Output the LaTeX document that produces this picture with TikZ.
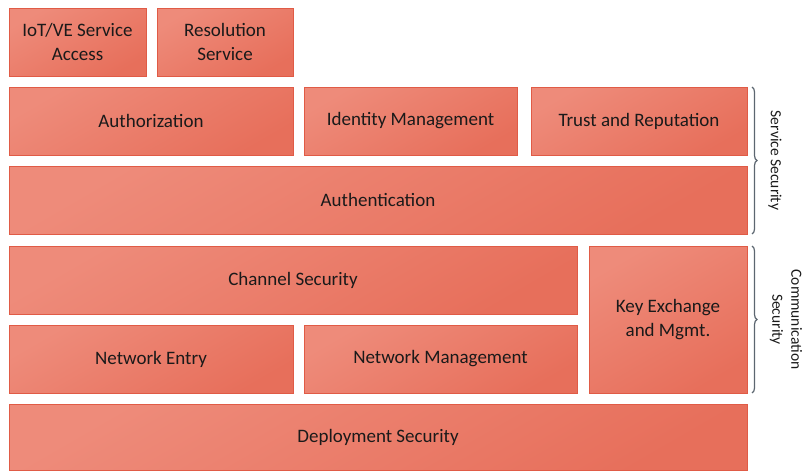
\documentclass[tikz,border=0pt]{standalone}
\usepackage{fontspec}
\setmainfont{Carlito}
\usetikzlibrary{decorations.pathreplacing}

\definecolor{boxlight}{HTML}{EE8B7A}
\definecolor{boxdark}{HTML}{E76F5B}
\definecolor{boxline}{HTML}{E05B46}
\definecolor{bracegray}{HTML}{5C6670}
\definecolor{txt}{HTML}{1A1A1A}

\begin{document}
\begin{tikzpicture}[x=1pt,y=-1pt,
    blk/.style={draw=boxline, line width=1pt, top color=boxlight,
      bottom color=boxdark, shading angle=30, inner sep=0pt,
      align=center, text=txt, font=\fontsize{19}{24}\selectfont},
    grp/.style={draw=bracegray, line width=1.2pt,
      decorate, decoration={brace, amplitude=5pt}},
    grplabel/.style={rotate=-90, align=center, text=txt,
      font=\fontsize{15.5}{19}\selectfont}]
  \useasboundingbox (0,0) rectangle (803,471);

  % top row
  \node[blk, minimum width=137pt, minimum height=68pt] (iot) at (77.5,42) {IoT/VE Service\\Access};
  \node[blk, minimum width=136pt, minimum height=68pt] (res) at (225,42) {Resolution\\Service};

  % service security
  \node[blk, minimum width=284pt, minimum height=68pt] (authz) at (151,121) {Authorization};
  \node[blk, minimum width=213pt, minimum height=68pt] (idm) at (410.5,121) {Identity Management};
  \node[blk, minimum width=216pt, minimum height=68pt] (trust) at (639,121) {Trust and Reputation};
  \node[blk, minimum width=738pt, minimum height=68pt] (authn) at (378,200) {Authentication};

  % communication security
  \node[blk, minimum width=568pt, minimum height=68pt] (chan) at (293,280) {Channel Security};
  \node[blk, minimum width=158pt, minimum height=147pt] (kex) at (668,319.5) {Key Exchange\\and Mgmt.};
  \node[blk, minimum width=284pt, minimum height=68pt] (nent) at (151,359) {Network Entry};
  \node[blk, minimum width=273pt, minimum height=68pt] (nmgmt) at (440.5,359) {Network Management};

  % bottom
  \node[blk, minimum width=738pt, minimum height=66pt] (dep) at (378,437) {Deployment Security};

  % groups
  \coordinate (sstop) at (752,87);
  \coordinate (ssbot) at (752,234);
  \coordinate (cstop) at (752,246);
  \coordinate (csbot) at (752,393);
  \draw[grp] (sstop) -- (ssbot);
  \draw[grp] (cstop) -- (csbot);
  \node[grplabel] (sslabel) at (775,160.5) {Service Security};
  \node[grplabel] (cslabel) at (786,319.5) {Communication\\Security};
\end{tikzpicture}
\end{document}
